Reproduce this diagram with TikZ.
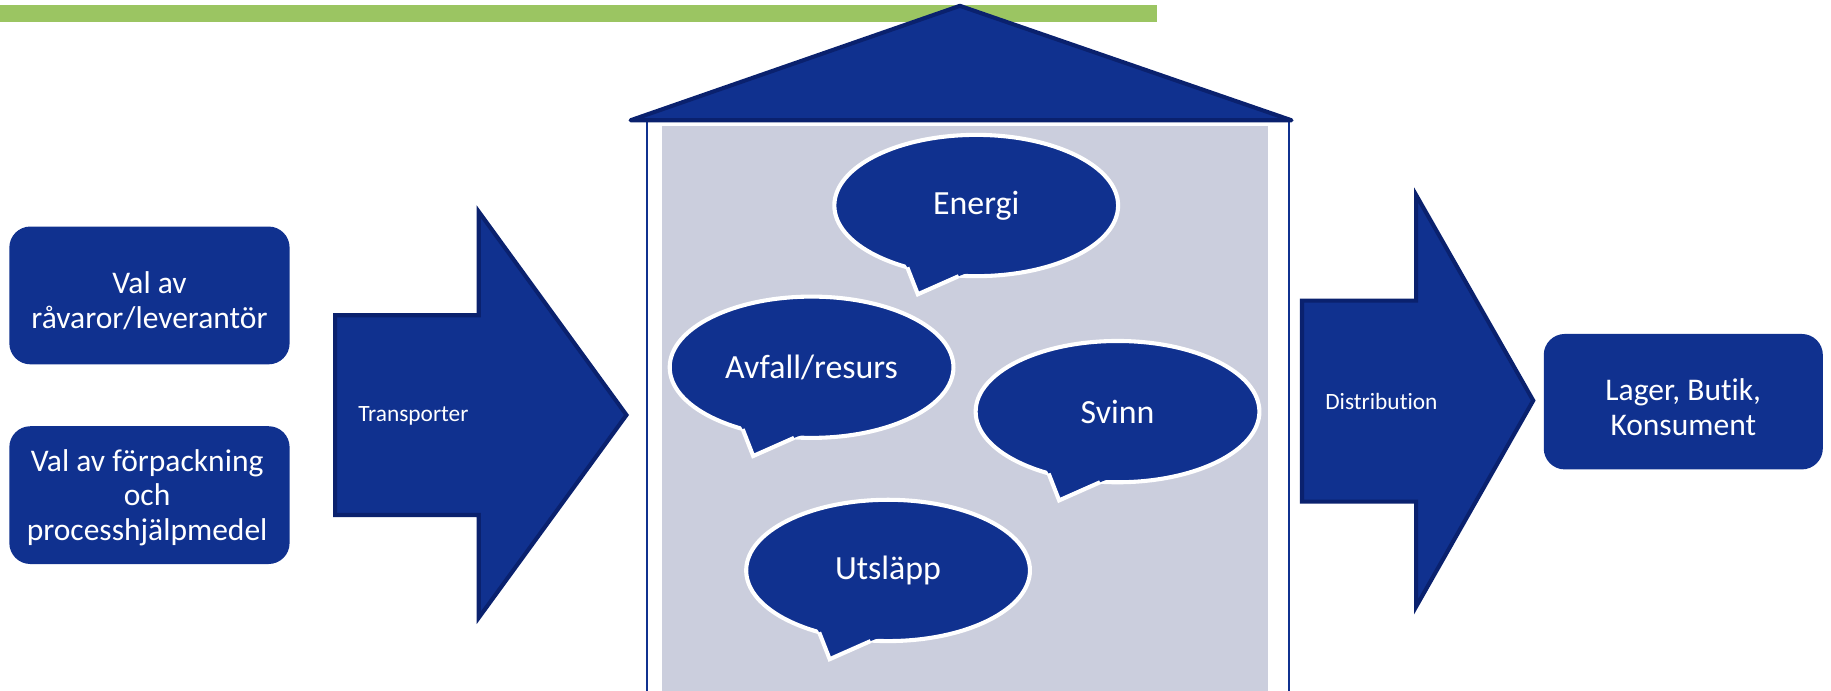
\documentclass[tikz,border=0pt]{standalone}
\usepackage{fontspec}
\setmainfont[Ligatures={NoCommon,NoRare,NoContextual}]{Carlito}
\usetikzlibrary{shapes.geometric,calc}
\definecolor{navy}{RGB}{16,49,143}
\definecolor{navyedge}{RGB}{10,33,110}
\definecolor{housegray}{RGB}{203,206,221}
\definecolor{leafgreen}{RGB}{155,197,98}
\newcommand{\bubtail}[1]{%
  \fill[navy] ($(#1.center)+(-66,-41)$) -- ($(#1.center)+(-59,-53)$) -- ($(#1.center)+(-50,-76)$) -- ($(#1.center)+(-15,-60.5)$) -- ($(#1.center)+(-1,-55)$) -- cycle;
  \draw[white, line width=3.5pt, line join=miter] ($(#1.center)+(-59,-53)$) -- ($(#1.center)+(-50,-76)$) -- ($(#1.center)+(-15,-60.5)$);
}
\begin{document}
\begin{tikzpicture}[x=1pt,y=1pt,
  box/.style={fill=navy, rounded corners=18pt, minimum width=240pt, minimum height=118pt, inner sep=0pt},
  boxtext/.style={align=center, text=white, font=\fontsize{27}{29.5}\selectfont, inner sep=0pt},
  bubble/.style={ellipse, fill=navy, draw=white, line width=3.5pt, minimum width=243pt, minimum height=121pt, inner sep=0pt, text=white, font=\fontsize{29}{33}\selectfont},
  bigarrow/.style={fill=navy, draw=navyedge, line width=3.5pt, line join=miter},
  arrowlabel/.style={text=white, font=\fontsize{20}{24}\selectfont, inner sep=0pt}
]
\useasboundingbox (0,99.3) rectangle (1568,691);

% green bar
\fill[leafgreen] (0,672) rectangle (991,687);

% house walls and interior
\draw[navy, line width=1.5pt, fill=white] (554,90) -- (554,588) -- (1104,588) -- (1104,90);
\fill[housegray] (567,90) rectangle (1086,583);
% roof
\draw[fill=navy, draw=navyedge, line width=3.5pt, line join=round, line cap=round] (540,588) -- (822,686) -- (1106,588) -- cycle;

% left boxes
\node[box] (raw) at (128,438) {};
\node[boxtext] (rawtext) at ($(raw.center)+(0,-4.5)$) {Val av\\råvaror/leverantör};
\node[box] (pack) at (128,267) {};
\node[boxtext] (packtext) at ($(pack.center)+(-2,-2)$) {Val av förpackning\\och\\processhjälpmedel};

% Transporter arrow
\draw[bigarrow] (287,250) -- (410,250) -- (410,162) -- (536.5,335.6) -- (410,509.7) -- (410,421) -- (287,421) -- cycle;
\node[arrowlabel] (transp) at (354,334.7) {Transporter};

% bubbles
\node[bubble] (energi) at (836,515) {Energi};
\node[bubble] (avfall) at (695,376.5) {Avfall/resurs};
\node[bubble] (svinn) at (957,338.5) {Svinn};
\node[bubble] (utslapp) at (760.5,202.5) {Utsläpp};
\bubtail{energi}
\bubtail{avfall}
\bubtail{svinn}
\bubtail{utslapp}

% Distribution arrow
\draw[bigarrow] (1115,261.4) -- (1212.7,261.4) -- (1212.7,171.5) -- (1313,348) -- (1212.7,524) -- (1212.7,433.5) -- (1115,433.5) -- cycle;
\node[arrowlabel] (distr) at (1183,347) {Distribution};

% right box
\node[box, minimum width=239pt, minimum height=116pt] (lager) at (1441.5,347) {};
\node[boxtext] (lagertext) at ($(lager.center)+(0,-4.5)$) {Lager, Butik,\\Konsument};
\end{tikzpicture}
\end{document}
